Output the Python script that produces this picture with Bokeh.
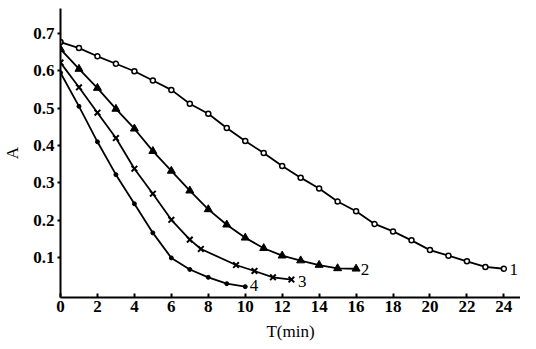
from bokeh.plotting import figure
from bokeh.models import Range1d, FixedTicker, Label
from bokeh.embed import file_html
from bokeh.resources import INLINE

# Curve 1
t1 = list(range(25))
a1 = [0.677, 0.661, 0.639, 0.619, 0.599, 0.574, 0.549, 0.512, 0.485, 0.447, 0.412,
      0.380, 0.345, 0.314, 0.285, 0.250, 0.224, 0.190, 0.170, 0.146, 0.120, 0.105,
      0.090, 0.075, 0.070]
# Curve 2
t2 = list(range(17))
a2 = [0.658, 0.605, 0.554, 0.498, 0.445, 0.385, 0.332, 0.279, 0.229, 0.188, 0.153,
      0.125, 0.105, 0.092, 0.080, 0.071, 0.070]
# Curve 3
t3 = [0, 1, 2, 3, 4, 5, 6, 7, 7.6, 9.5, 10.5, 11.5, 12.5]
a3 = [0.622, 0.556, 0.488, 0.420, 0.338, 0.271, 0.201, 0.148, 0.123, 0.080, 0.064,
      0.047, 0.041]
# Curve 4
t4 = list(range(11))
a4 = [0.595, 0.505, 0.410, 0.322, 0.244, 0.166, 0.099, 0.068, 0.047, 0.030, 0.022]

x_ticks = list(range(0, 25, 2))
y_ticks = [0.1, 0.2, 0.3, 0.4, 0.5, 0.6, 0.7]
curve_names = ["1", "2", "3", "4"]
label_pos_t = [24.3, 16.25, 12.85, 10.25]
label_pos_a = [0.068, 0.067, 0.036, 0.026]
x_title = "T(min)"
y_title = "A"

FONT = "Liberation Serif"

p = figure(width=520, height=349, output_backend="svg", toolbar_location=None,
           x_range=Range1d(0, 24.9), y_range=Range1d(-0.007, 0.767),
           min_border_left=53, min_border_right=0, min_border_top=8,
           min_border_bottom=52)
p.outline_line_color = None
p.grid.visible = False
p.background_fill_color = "white"

p.xaxis.ticker = FixedTicker(ticks=x_ticks)
p.yaxis.ticker = FixedTicker(ticks=y_ticks)
p.xaxis.minor_tick_line_color = None
p.yaxis.minor_tick_line_color = None
for ax in (p.xaxis, p.yaxis):
    ax.axis_line_width = 2
    ax.axis_line_color = "black"
    ax.major_tick_line_color = "black"
    ax.major_tick_line_width = 2
    ax.major_label_text_font = FONT
    ax.major_label_text_font_size = "17px"
    ax.major_label_text_font_style = "bold"
    ax.major_label_text_color = "black"
    ax.axis_label_text_font = FONT
    ax.axis_label_text_font_size = "17px"
    ax.axis_label_text_font_style = "normal"
    ax.axis_label_text_color = "black"

p.xaxis.major_tick_in = 4
p.xaxis.major_tick_out = 0
p.yaxis.major_tick_in = 0
p.yaxis.major_tick_out = 3
p.xaxis.major_label_standoff = 3
p.yaxis.major_label_standoff = 3
p.yaxis.axis_label = y_title
p.yaxis.axis_label_standoff = 8
p.xaxis.axis_label = x_title
p.xaxis.axis_label_standoff = 7

lw = 1.8
p.line(t1, a1, line_color="black", line_width=lw)
p.scatter(t1, a1, marker="circle", size=5, line_color="black", fill_color="white",
          line_width=1.5)

p.line(t2, a2, line_color="black", line_width=lw)
p.scatter(t2, a2, marker="triangle", size=8, line_color="black", fill_color="black")

p.line(t3, a3, line_color="black", line_width=lw)
p.scatter(t3, a3, marker="x", size=8, line_color="black", line_width=2)

p.line(t4, a4, line_color="black", line_width=lw)
p.scatter(t4, a4, marker="circle", size=4, line_color="black", fill_color="black")

for name, tx, ay in zip(curve_names, label_pos_t, label_pos_a):
    p.add_layout(Label(x=tx, y=ay, text=name, text_font=FONT, text_font_size="17px",
                       text_baseline="middle", text_align="left", text_color="black"))

open("out.html", "w").write(file_html(p, INLINE))
